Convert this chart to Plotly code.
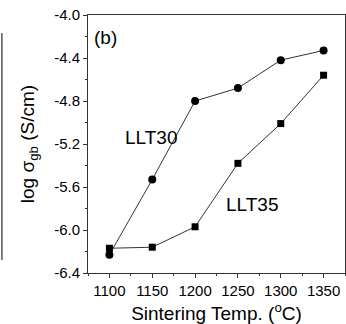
import plotly.graph_objects as go

temps = [1100, 1150, 1200, 1250, 1300, 1350]
llt30 = [-6.23, -5.53, -4.80, -4.68, -4.42, -4.33]
llt35 = [-6.17, -6.16, -5.97, -5.38, -5.01, -4.56]

x_ticks = [1100, 1150, 1200, 1250, 1300, 1350]
y_ticks = [-4.0, -4.4, -4.8, -5.2, -5.6, -6.0, -6.4]
y_ticklabels = ["-4.0", "-4.4", "-4.8", "-5.2", "-5.6", "-6.0", "-6.4"]

FONT = "Arial, Liberation Sans, sans-serif"

fig = go.Figure()
fig.add_trace(go.Scatter(x=temps, y=llt30, mode="lines+markers", name="LLT30",
                         line=dict(color="#333333", width=1),
                         marker=dict(symbol="circle", size=8, color="black")))
fig.add_trace(go.Scatter(x=temps, y=llt35, mode="lines+markers", name="LLT35",
                         line=dict(color="#333333", width=1),
                         marker=dict(symbol="square", size=7, color="black")))

axis_common = dict(showline=True, linecolor="#333333", linewidth=1, mirror=True,
                   ticks="outside", ticklen=4, tickcolor="#333333", showgrid=False,
                   zeroline=False, tickfont=dict(family=FONT, size=15, color="black"))

fig.update_xaxes(range=[1075, 1375], tickvals=x_ticks,
                 minor=dict(ticks="outside", ticklen=2, dtick=25, tickcolor="#333333"),
                 title=dict(text="Sintering Temp. (<sup>o</sup>C)", standoff=8,
                            font=dict(family=FONT, size=19, color="black")),
                 **axis_common)
fig.update_yaxes(range=[-6.4, -4.0], tickvals=y_ticks, ticktext=y_ticklabels,
                 minor=dict(ticks="outside", ticklen=2, dtick=0.2, tickcolor="#333333"),
                 title=dict(text="log σ<sub>gb</sub> (S/cm)", standoff=14,
                            font=dict(family=FONT, size=19, color="black")),
                 **axis_common)

fig.add_annotation(x=0.016, y=0.962, xref="paper", yref="paper", text="(b)",
                   showarrow=False, xanchor="left", yanchor="top",
                   font=dict(family=FONT, size=19, color="black"))
fig.add_annotation(x=1148, y=-5.14, text="LLT30", showarrow=False,
                   font=dict(family=FONT, size=19, color="black"))
fig.add_annotation(x=1267, y=-5.76, text="LLT35", showarrow=False,
                   font=dict(family=FONT, size=19, color="black"))

# remnant frame line of neighbouring panel at left edge
fig.add_shape(type="line", xref="paper", yref="paper", x0=-0.335, x1=-0.335,
              y0=0.05, y1=0.93, line=dict(color="#555555", width=1.5))

fig.update_layout(width=346, height=324, margin=dict(l=88, r=1, t=15, b=51),
                  paper_bgcolor="white", plot_bgcolor="white", showlegend=False,
                  font=dict(family=FONT, color="black"))

fig.write_html("out.html")
